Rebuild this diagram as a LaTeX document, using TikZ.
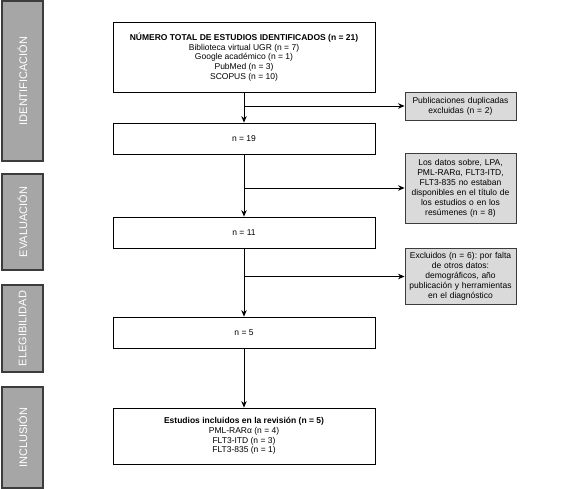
\documentclass[tikz,border=0pt]{standalone}
\usepackage{fontspec}
\setmainfont{Liberation Sans}
\usetikzlibrary{arrows.meta,positioning}
\definecolor{phasegray}{HTML}{A6A6A6}
\definecolor{boxgray}{HTML}{DADADA}
\definecolor{edgegray}{HTML}{3C3C3C}
\frenchspacing

\begin{document}
\begin{tikzpicture}[x=1pt,y=-1pt,>={Stealth[length=6.5pt,width=5.5pt]},
  mainbox/.style={draw,line width=0.8pt,minimum width=262pt,align=center,inner sep=3pt,
    font=\fontsize{8.5}{9.6}\selectfont},
  sidebox/.style={draw=edgegray,line width=0.9pt,fill=boxgray,text width=103pt,inner sep=4pt,
    align=center,font=\fontsize{8.5}{10}\selectfont},
  phase/.style={draw=edgegray,line width=1.1pt,fill=phasegray,rotate=90,minimum height=41pt,
    text=white,inner sep=0pt,font=\fontsize{11}{12}\selectfont}]
\useasboundingbox (0,0) rectangle (582,489);

% phases
\node[phase,minimum width=160pt] (p1) at (22.5,81) {IDENTIFICACIÓN};
\node[phase,minimum width=96pt] (p2) at (22.5,222) {EVALUACIÓN};
\node[phase,minimum width=87pt] (p3) at (22.5,328.5) {ELEGIBILIDAD};
\node[phase,minimum width=101pt] (p4) at (22.5,437.5) {INCLUSIÓN};

% main flow
\node[mainbox,minimum height=70pt] (a) at (244,57) {\textbf{NÚMERO TOTAL DE ESTUDIOS IDENTIFICADOS (n = 21)}\\Biblioteca virtual UGR (n = 7)\\Google académico (n = 1)\\PubMed (n = 3)\\SCOPUS (n = 10)};
\node[mainbox,minimum height=31pt] (b) at (244,138.5) {n = 19};
\node[mainbox,minimum height=31pt] (c) at (244,232.5) {n = 11};
\node[mainbox,minimum height=31pt] (d) at (244,332.5) {n = 5};
\node[mainbox,minimum height=56pt] (e) at (244,436) {\textbf{Estudios incluidos en la revisión (n = 5)}\\PML-RARα (n = 4)\\FLT3-ITD (n = 3)\\FLT3-835 (n = 1)};

% excluded
\node[sidebox,minimum height=28pt] (xa) at (460.5,106) {Publicaciones duplicadas\\excluidas (n = 2)};
\node[sidebox,minimum height=70pt] (xb) at (460.5,188) {Los datos sobre, LPA,\\PML-RARα, FLT3-ITD,\\FLT3-835 no estaban\\disponibles en el título de\\los estudios o en los\\resúmenes (n = 8)};
\node[sidebox,minimum height=55pt] (xc) at (460.5,276.5) {Excluidos (n = 6): por falta\\de otros datos:\\demográficos, año\\publicación y herramientas\\en el diagnóstico};

\coordinate (ja) at (a.south |- xa);
\coordinate (jb) at (b.south |- xb);
\coordinate (jc) at (c.south |- xc);

\draw[->,line width=0.9pt] (a) -- (b);
\draw[->,line width=0.9pt] (b) -- (c);
\draw[->,line width=0.9pt] (c) -- (d);
\draw[->,line width=0.9pt] (d) -- (e);
\draw[->,line width=0.9pt] (ja) -- (xa);
\draw[->,line width=0.9pt] (jb) -- (xb);
\draw[->,line width=0.9pt] (jc) -- (xc);
\end{tikzpicture}
\end{document}
